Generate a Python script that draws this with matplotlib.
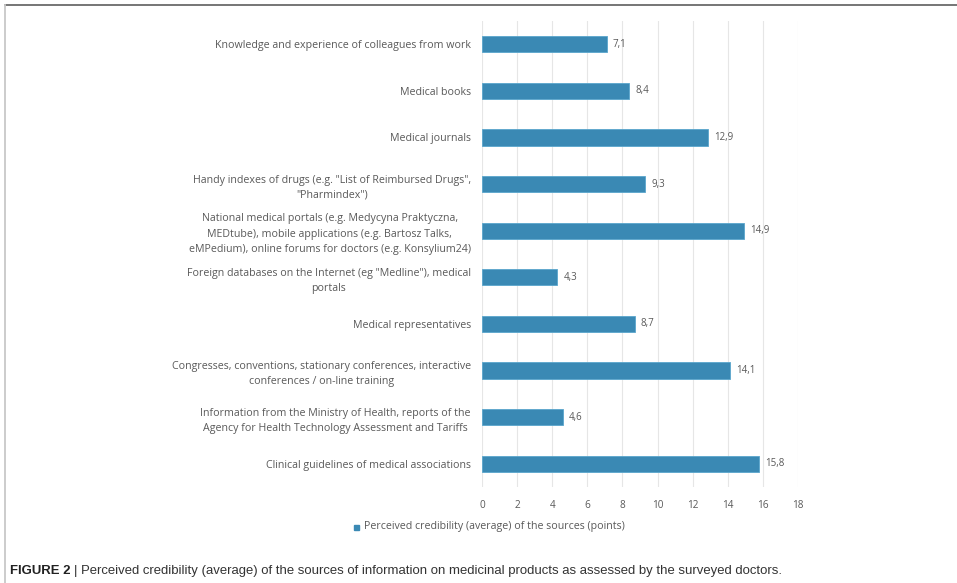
import matplotlib
matplotlib.use("Agg")
import matplotlib.pyplot as plt
from matplotlib.lines import Line2D
from matplotlib.patches import Rectangle

categories = [
    "Knowledge and experience of colleagues from work",
    "Medical books",
    "Medical journals",
    "Handy indexes of drugs (e.g. \"List of Reimbursed Drugs\",\n\"Pharmindex\")",
    "National medical portals (e.g. Medycyna Praktyczna,\nMEDtube), mobile applications (e.g. Bartosz Talks,\neMPedium), online forums for doctors (e.g. Konsylium24)",
    "Foreign databases on the Internet (eg \"Medline\"), medical\nportals",
    "Medical representatives",
    "Congresses, conventions, stationary conferences, interactive\nconferences / on-line training",
    "Information from the Ministry of Health, reports of the\nAgency for Health Technology Assessment and Tariffs",
    "Clinical guidelines of medical associations",
]
values = [7.1, 8.4, 12.9, 9.3, 14.9, 4.3, 8.7, 14.1, 4.6, 15.8]
xticks = [0, 2, 4, 6, 8, 10, 12, 14, 16, 18]
legend_label = "Perceived credibility (average) of the sources (points)"
caption_bold = "FIGURE 2"
caption_text = ("| Perceived credibility (average) of the sources of information on "
                "medicinal products as assessed by the surveyed doctors.")

BAR = "#3a89b4"
TXT = "#595959"
FONT = ["Open Sans", "DejaVu Sans"]
W, H = 957, 583

fig = plt.figure(figsize=(W / 100, H / 100), dpi=100)
ax = fig.add_axes([482 / W, 1 - 487 / H, 316 / W, 466 / H])

y = list(range(len(categories)))
ax.barh(y, values, height=0.35, color=BAR, edgecolor="#5aa6cc", linewidth=0.6, zorder=3,
        label=legend_label)
for yi, v in zip(y, values):
    ax.text(v + 0.35, yi, f"{v:.1f}".replace(".", ","), va="center", ha="left",
            fontsize=7, color=TXT, family=FONT)

ax.set_xlim(0, 18)
ax.set_ylim(len(categories) - 0.5, -0.5)
ax.set_xticks(xticks)
ax.set_xticklabels([str(t) for t in xticks], fontsize=7.2, color=TXT, family=FONT)
ax.set_yticks(y)
ax.set_yticklabels(categories, fontsize=7.7, color=TXT, family=FONT,
                   multialignment="center", linespacing=1.55)
ax.tick_params(axis="y", length=0, pad=8)
ax.tick_params(axis="x", length=0, pad=9)

ax.grid(axis="x", color="#e6e6e6", linewidth=0.8, zorder=0)
for s in ax.spines.values():
    s.set_visible(False)

# legend
fig.patches.append(Rectangle((354 / W, 1 - 530 / H), 5 / W, 5 / H,
                             transform=fig.transFigure, color=BAR))
fig.text(364 / W, 1 - 527 / H, legend_label, fontsize=7.7, color=TXT, family=FONT,
         va="center", ha="left")

# frame lines
fig.add_artist(Line2D([5 / W, 1], [1 - 5 / H, 1 - 5 / H], transform=fig.transFigure,
                      color="#6a6a6a", linewidth=1.3))
fig.add_artist(Line2D([5 / W, 5 / W], [0, 1 - 5 / H], transform=fig.transFigure,
                      color="#c8c8c8", linewidth=1.3))

# caption, fitted to the reference width
cap_font = ["Liberation Sans", "DejaVu Sans"]
fs = 9.0
renderer = fig.canvas.get_renderer()
t1 = fig.text(10 / W, 1 - 571 / H, caption_bold, fontsize=fs, fontweight="bold",
              color="#222222", family=cap_font, va="center", ha="left")
t2 = fig.text(0, 1 - 571 / H, caption_text, fontsize=fs, color="#333333",
              family=cap_font, va="center", ha="left")
b1 = t1.get_window_extent(renderer)
b2 = t2.get_window_extent(renderer)
total = b1.width + 4 + b2.width
fs = fs * 777 / total
t1.set_fontsize(fs)
t2.set_fontsize(fs)
b1 = t1.get_window_extent(renderer)
t2.set_x((b1.x1 + 4) / W)

fig.savefig("out.png", dpi=100, facecolor="white")
